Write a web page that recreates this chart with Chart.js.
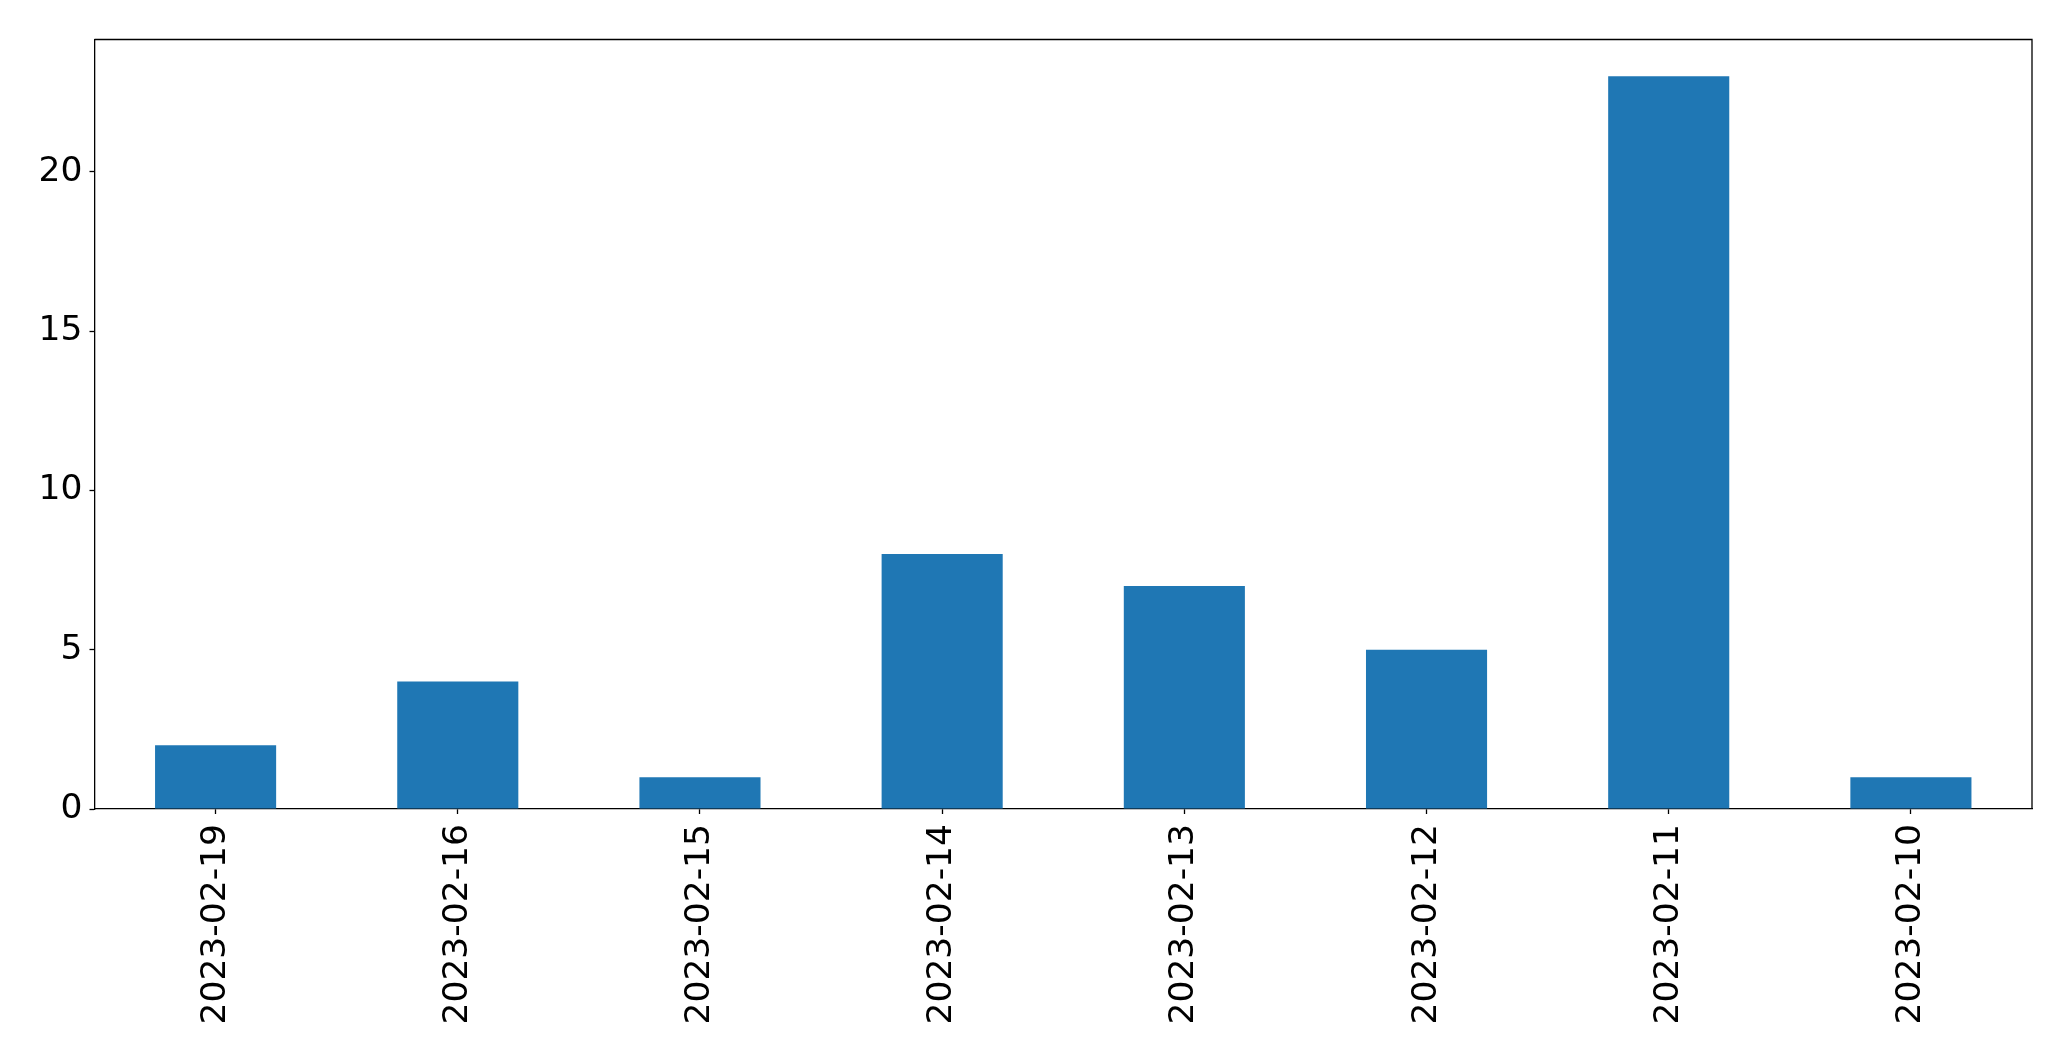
<!DOCTYPE html>
<html>
<head>
<meta charset="utf-8">
<script src="https://cdn.jsdelivr.net/npm/chart.js@4.4.0/dist/chart.umd.min.js"></script>
<style>
	body { margin: 0; background: #ffffff; }
	canvas { display: block; }
</style>
</head>
<body>
<canvas id="countByDate" width="2071" height="1061"></canvas>
<script>
const dates = ['2023-02-19', '2023-02-16', '2023-02-15', '2023-02-14', '2023-02-13', '2023-02-12', '2023-02-11', '2023-02-10'];
const counts = [2, 4, 1, 8, 7, 5, 23, 1];
const yMax = 24.15;
const yStep = 5;

// draws the top and right edges of the axes box
const frameBox = {
	id : 'frameBox',
	afterDraw : function(chart) {
		let ctx = chart.ctx;
		let a = chart.chartArea;
		ctx.save();
		ctx.strokeStyle = '#000000';
		ctx.lineWidth = 1.3;
		ctx.beginPath();
		ctx.moveTo(a.left, a.top);
		ctx.lineTo(a.right, a.top);
		ctx.lineTo(a.right, a.bottom);
		ctx.stroke();
		ctx.restore();
	}
};

function drawCountByDate() {
	let tickFont = { family : 'DejaVu Sans', size : 34.5 };
	let target = document.getElementById('countByDate');
	new Chart(target, {
		type : 'bar',
		data : {
			labels : dates,
			datasets : [{
				label : 'count',
				data : counts,
				backgroundColor : '#1f77b4',
				categoryPercentage : 1.0,
				barPercentage : 0.5
			}]
		},
		plugins : [frameBox],
		options : {
			responsive : false,
			animation : false,
			layout : {
				padding : { top : 39.5, right : 39, left : 0, bottom : 0 }
			},
			plugins : {
				legend : { display : false },
				tooltip : { enabled : false }
			},
			scales : {
				x : {
					offset : true,
					grid : {
						offset : false,
						drawOnChartArea : false,
						drawTicks : true,
						tickLength : 5,
						tickWidth : 1.3,
						tickColor : '#000000'
					},
					border : { color : '#000000', width : 1.3 },
					ticks : {
						color : '#000000',
						font : tickFont,
						minRotation : 90,
						maxRotation : 90,
						autoSkip : false,
						padding : 10
					},
					afterFit : function(scale) {
						scale.height = 252;
					}
				},
				y : {
					min : 0,
					max : yMax,
					grid : {
						drawOnChartArea : false,
						drawTicks : true,
						tickLength : 5,
						tickWidth : 1.3,
						tickColor : '#000000'
					},
					border : { color : '#000000', width : 1.3 },
					ticks : {
						color : '#000000',
						font : tickFont,
						stepSize : yStep,
						includeBounds : false,
						padding : 7
					},
					afterFit : function(scale) {
						scale.width = 94.5;
					}
				}
			}
		}
	});
}

drawCountByDate();
</script>
</body>
</html>
